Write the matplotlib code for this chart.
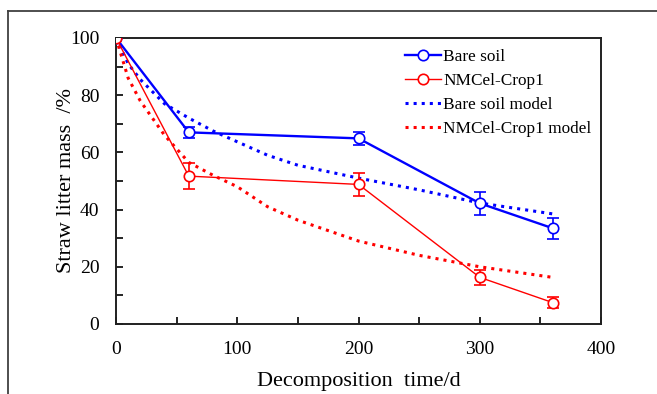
import matplotlib
matplotlib.use("Agg")
import matplotlib.pyplot as plt
from matplotlib.lines import Line2D
from matplotlib.ticker import MultipleLocator

plt.rcParams['font.family'] = ['Liberation Serif', 'DejaVu Serif']

# measured data
days = [0, 60, 200, 300, 360]
bare = [100, 67.0, 64.9, 42.2, 33.5]
bare_err = [0, 2.0, 2.2, 4.0, 3.7]
nmcel = [100, 51.7, 48.8, 16.3, 7.5]
nmcel_err = [0, 4.5, 3.9, 2.6, 1.9]

# model curves
model_days = [0, 10, 20, 40, 60, 80, 100, 125, 150, 200, 250, 300, 360]
bare_model = [100, 91, 85.5, 77, 72, 67.5, 63.7, 59, 55.5, 51, 46.9, 42.3, 38.5]
nmcel_model = [100, 86, 78, 66, 56.5, 52, 48, 41, 36.3, 29, 24, 20, 16.3]

blue = '#0000FF'
red = '#FF0000'

fig = plt.figure(figsize=(6.57, 3.94), dpi=100)
ax = fig.add_axes([0.1766, 0.1777, 0.7382, 0.7259])

# outer frame (only left and top edges visible)
fx = 8 / 657
fy = 1 - 11 / 394
fig.add_artist(Line2D([fx, fx], [0, fy], transform=fig.transFigure, color='#404040', lw=1.3))
fig.add_artist(Line2D([fx, 1], [fy, fy], transform=fig.transFigure, color='#404040', lw=1.3))

h_bm, = ax.plot(model_days, bare_model, ':', color=blue, lw=2.2, zorder=2)
h_nm, = ax.plot(model_days, nmcel_model, ':', color=red, lw=2.2, zorder=2)

# error bars (skip day 0, no spread there)
ax.errorbar(days[1:], bare[1:], yerr=bare_err[1:], fmt='none', ecolor=blue,
            capsize=4, elinewidth=1.2, capthick=1.2, zorder=3)
ax.errorbar(days[1:], nmcel[1:], yerr=nmcel_err[1:], fmt='none', ecolor=red,
            capsize=4, elinewidth=1.2, capthick=1.2, zorder=3)

h_b, = ax.plot(days, bare, '-o', color=blue, lw=1.7, ms=7.5, mfc='white',
               mec=blue, mew=1.2, zorder=4)
h_n, = ax.plot(days, nmcel, '-o', color=red, lw=1.0, ms=7.5, mfc='white',
               mec=red, mew=1.2, zorder=4)

ax.set_xlim(0, 400)
ax.set_ylim(0, 100)
ax.xaxis.set_major_locator(MultipleLocator(100))
ax.xaxis.set_minor_locator(MultipleLocator(50))
ax.yaxis.set_major_locator(MultipleLocator(20))
ax.yaxis.set_minor_locator(MultipleLocator(10))
ax.tick_params(which='both', direction='in', top=False, right=False, width=1.2,
               length=5, labelsize=14)
ax.tick_params(axis='y', pad=12)
ax.tick_params(axis='x', pad=12)
for s in ax.spines.values():
    s.set_linewidth(1.4)
    s.set_color('#202020')

ax.set_xlabel('Decomposition  time/d', fontsize=16, labelpad=10)
ax.set_ylabel('Straw litter mass  /%', fontsize=16, labelpad=-4)

ax.legend([h_b, h_n, h_bm, h_nm],
          ['Bare soil', 'NMCel-Crop1', 'Bare soil model', 'NMCel-Crop1 model'],
          loc='upper left', bbox_to_anchor=(0.581, 0.985), frameon=False,
          fontsize=12.4, handlelength=2.1, handletextpad=0.15, labelspacing=0.45,
          borderaxespad=0)

fig.savefig('out.png', dpi=100)
